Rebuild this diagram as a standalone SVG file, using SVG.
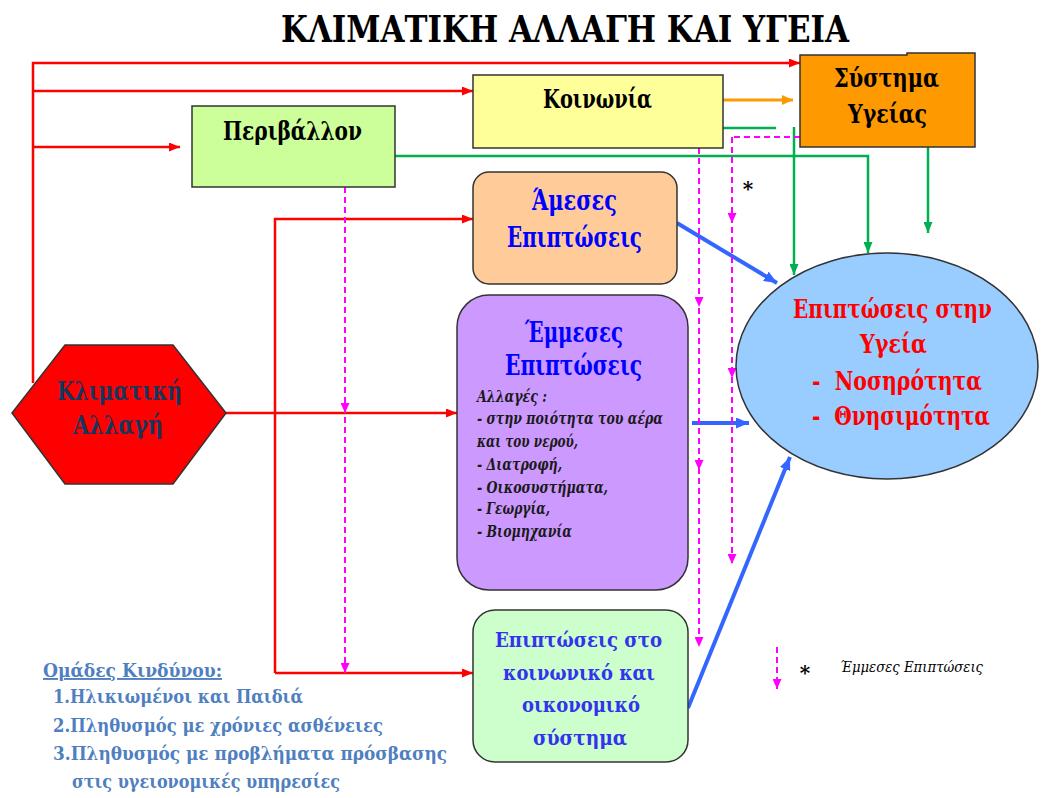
<svg xmlns="http://www.w3.org/2000/svg" width="1043" height="798" viewBox="0 0 1043 798">
<defs>
<style>
.box{stroke:#333;stroke-width:1.5}
text{font-family:"DejaVu Serif","Liberation Serif",serif;font-weight:bold}
.c{text-anchor:middle}
.it{font-style:italic}
.red{fill:none;stroke:#FF0000;stroke-width:2.5}
.grn{fill:none;stroke:#00B050;stroke-width:2.5}
.blu{fill:none;stroke:#3366FF;stroke-width:4}
.mag{fill:none;stroke:#FF00FF;stroke-width:2;stroke-dasharray:6 4}
.ora{fill:none;stroke:#FF9900;stroke-width:3}
</style>
<marker id="ar" viewBox="0 0 10 10" refX="10" refY="5" markerWidth="11" markerHeight="9" markerUnits="userSpaceOnUse" orient="auto" preserveAspectRatio="none"><path d="M0,0 L10,5 L0,10 z" fill="#FF0000"/></marker>
<marker id="ag" viewBox="0 0 10 10" refX="10" refY="5" markerWidth="11" markerHeight="9" markerUnits="userSpaceOnUse" orient="auto" preserveAspectRatio="none"><path d="M0,0 L10,5 L0,10 z" fill="#00B050"/></marker>
<marker id="ao" viewBox="0 0 10 10" refX="10" refY="5" markerWidth="11" markerHeight="10" markerUnits="userSpaceOnUse" orient="auto" preserveAspectRatio="none"><path d="M0,0 L10,5 L0,10 z" fill="#FF9900"/></marker>
<marker id="ab" viewBox="0 0 10 10" refX="10" refY="5" markerWidth="13" markerHeight="11" markerUnits="userSpaceOnUse" orient="auto" preserveAspectRatio="none"><path d="M0,0 L10,5 L0,10 z" fill="#3366FF"/></marker>
<marker id="am" viewBox="0 0 10 10" refX="10" refY="5" markerWidth="10" markerHeight="9" markerUnits="userSpaceOnUse" orient="auto" preserveAspectRatio="none"><path d="M0,0 L10,5 L0,10 z" fill="#FF00FF"/></marker>
</defs>
<rect width="1043" height="798" fill="#FFFFFF"/>
<text x="281" y="42" font-size="37" textLength="568" lengthAdjust="spacingAndGlyphs" fill="#000">ΚΛΙΜΑΤΙΚΗ ΑΛΛΑΓΗ ΚΑΙ ΥΓΕΙΑ</text>

<g id="connectors">
<path class="red" d="M33 383 V63 H800" marker-end="url(#ar)"/>
<path class="red" d="M33 91 H473" stroke-width="4" marker-end="url(#ar)"/>
<path class="red" d="M33 147 H180" marker-end="url(#ar)"/>
<path class="red" d="M226 413 H457" marker-end="url(#ar)"/>
<path class="red" d="M275 673 V219 H473" marker-end="url(#ar)"/>
<path class="red" d="M275 673 H473" stroke-width="3" marker-end="url(#ar)"/>
<path class="ora" d="M723 100 H793" marker-end="url(#ao)"/>
<path class="grn" d="M723 128 H776"/>
<path class="grn" d="M794 127 V275" stroke-width="4" marker-end="url(#ag)"/>
<path class="grn" d="M395 156 H868 V253" marker-end="url(#ag)"/>
<path class="grn" d="M928 147 V233" marker-end="url(#ag)"/>
<path class="blu" d="M677 223 L777 283" marker-end="url(#ab)"/>
<path class="blu" d="M692 423 H749" marker-end="url(#ab)"/>
<path class="blu" d="M688 708 L790 457" stroke-width="2.5" marker-end="url(#ab)"/>
<path class="mag" d="M345 187 V413 V673" marker-mid="url(#am)" marker-end="url(#am)"/>
<path class="mag" d="M699 148 V307 V470 V647" marker-mid="url(#am)" marker-end="url(#am)"/>
<path class="mag" d="M800 137 H732"/>
<path class="mag" d="M732 137 V223 V378 V564" marker-mid="url(#am)" marker-end="url(#am)"/>
</g>

<g id="klimatiki">
<polygon class="box" points="12,413 65,345 173,345 226,413 173,484 65,484" fill="#FF0000"/>
<text x="57" y="400" font-size="26" fill="#17365D" textLength="125" lengthAdjust="spacingAndGlyphs">Κλιματική</text>
<text x="73" y="434" font-size="26" fill="#17365D" textLength="90" lengthAdjust="spacingAndGlyphs">Αλλαγή</text>
</g>

<g id="perivallon">
<rect class="box" x="192" y="106" width="203" height="81" fill="#CCFF99"/>
<text x="223" y="140" font-size="26" fill="#000" textLength="139" lengthAdjust="spacingAndGlyphs">Περιβάλλον</text>
</g>

<g id="koinonia">
<rect class="box" x="473" y="75" width="250" height="73" fill="#FFFF99"/>
<text x="543" y="108" font-size="26" fill="#000" textLength="109" lengthAdjust="spacingAndGlyphs">Κοινωνία</text>
</g>

<g id="systima">
<path class="box" d="M800 55 H907 V53 H975 V147 H800 Z" fill="#FF9900"/>
<text x="834" y="87" font-size="26" fill="#000" textLength="105" lengthAdjust="spacingAndGlyphs">Σύστημα</text>
<text x="848" y="123" font-size="26" fill="#000" textLength="79" lengthAdjust="spacingAndGlyphs">Υγείας</text>
</g>

<g id="ameses">
<rect class="box" x="473" y="172" width="204" height="112" rx="16" fill="#FFCC99"/>
<text x="532" y="210" font-size="27" fill="#0000FF" textLength="85" lengthAdjust="spacingAndGlyphs">Άμεσες</text>
<text x="507" y="247" font-size="27" fill="#0000FF" textLength="135" lengthAdjust="spacingAndGlyphs">Επιπτώσεις</text>
</g>

<g id="emmeses">
<rect class="box" x="457" y="295" width="231" height="295" rx="32" fill="#CC99FF"/>
<text x="525" y="342" font-size="27" fill="#0000FF" textLength="98" lengthAdjust="spacingAndGlyphs">Έμμεσες</text>
<text x="505" y="375" font-size="27" fill="#0000FF" textLength="137" lengthAdjust="spacingAndGlyphs">Επιπτώσεις</text>
<text class="it" x="477" y="402" font-size="16" fill="#1a1a1a" textLength="70" lengthAdjust="spacingAndGlyphs">Αλλαγές :</text>
<text class="it" x="477" y="424" font-size="16" fill="#1a1a1a" textLength="186" lengthAdjust="spacingAndGlyphs">- στην ποιότητα του αέρα</text>
<text class="it" x="477" y="447" font-size="16" fill="#1a1a1a" textLength="101" lengthAdjust="spacingAndGlyphs">και του νερού,</text>
<text class="it" x="477" y="470" font-size="16" fill="#1a1a1a" textLength="85" lengthAdjust="spacingAndGlyphs">- Διατροφή,</text>
<text class="it" x="477" y="493" font-size="16" fill="#1a1a1a" textLength="131" lengthAdjust="spacingAndGlyphs">- Οικοσυστήματα,</text>
<text class="it" x="477" y="514" font-size="16" fill="#1a1a1a" textLength="73" lengthAdjust="spacingAndGlyphs">- Γεωργία,</text>
<text class="it" x="477" y="537" font-size="16" fill="#1a1a1a" textLength="95" lengthAdjust="spacingAndGlyphs">- Βιομηχανία</text>
</g>

<g id="koinoniko">
<rect class="box" x="473" y="610" width="215" height="152" rx="22" fill="#CCFFCC"/>
<text x="495" y="647" font-size="21" fill="#3333EE" textLength="167" lengthAdjust="spacingAndGlyphs">Επιπτώσεις στο</text>
<text x="503" y="680" font-size="21" fill="#3333EE" textLength="152" lengthAdjust="spacingAndGlyphs">κοινωνικό και</text>
<text x="522" y="712" font-size="21" fill="#3333EE" textLength="118" lengthAdjust="spacingAndGlyphs">οικονομικό</text>
<text x="533" y="745" font-size="21" fill="#3333EE" textLength="94" lengthAdjust="spacingAndGlyphs">σύστημα</text>
</g>

<g id="ygeia">
<ellipse class="box" cx="887" cy="366" rx="151" ry="113" fill="#99CCFF"/>
<text x="793" y="318" font-size="26" fill="#FF0000" textLength="199" lengthAdjust="spacingAndGlyphs">Επιπτώσεις στην</text>
<text x="860" y="353" font-size="26" fill="#FF0000" textLength="67" lengthAdjust="spacingAndGlyphs">Υγεία</text>
<text x="812" y="390" font-size="26" fill="#FF0000" textLength="170" lengthAdjust="spacingAndGlyphs" xml:space="preserve">-  Νοσηρότητα</text>
<text x="812" y="425" font-size="26" fill="#FF0000" textLength="178" lengthAdjust="spacingAndGlyphs" xml:space="preserve">-  Θνησιμότητα</text>
</g>

<text class="c" x="748" y="196" font-size="20" fill="#000">*</text>

<g id="legend">
<path class="mag" d="M777 647 V689" stroke-dasharray="7 4" stroke-width="2.5" marker-end="url(#am)"/>
<text class="c" x="805" y="680" font-size="20" fill="#000">*</text>
<text class="it" x="840" y="672" font-size="15" style="font-weight:normal" fill="#000" textLength="143" lengthAdjust="spacingAndGlyphs">Έμμεσες Επιπτώσεις</text>
</g>

<g id="omades">
<text x="43" y="677" font-size="19" fill="#4F7FC0" text-decoration="underline" textLength="179" lengthAdjust="spacingAndGlyphs">Ομάδες Κινδύνου:</text>
<text x="53" y="703" font-size="19" fill="#4F7FC0" textLength="250" lengthAdjust="spacingAndGlyphs">1.Ηλικιωμένοι και Παιδιά</text>
<text x="53" y="732" font-size="19" fill="#4F7FC0" textLength="330" lengthAdjust="spacingAndGlyphs">2.Πληθυσμός με χρόνιες ασθένειες</text>
<text x="53" y="760" font-size="19" fill="#4F7FC0" textLength="394" lengthAdjust="spacingAndGlyphs">3.Πληθυσμός με προβλήματα πρόσβασης</text>
<text x="72" y="788" font-size="19" fill="#4F7FC0" textLength="268" lengthAdjust="spacingAndGlyphs">στις υγειονομικές υπηρεσίες</text>
</g>
</svg>
